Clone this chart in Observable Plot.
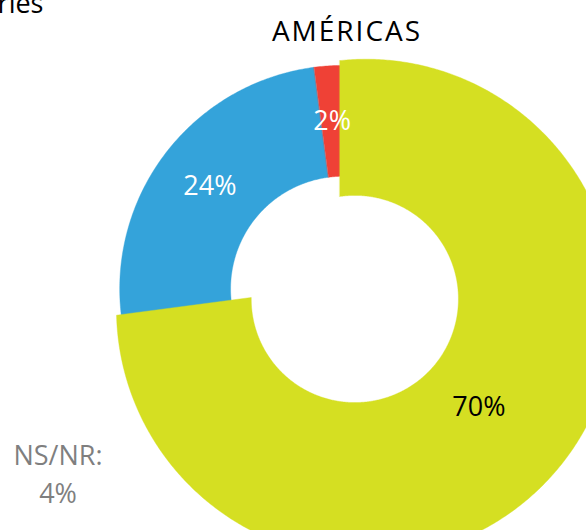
<!DOCTYPE html>
<html><head><meta charset="utf-8">
<script src="https://cdn.jsdelivr.net/npm/d3@7"></script>
<script src="https://cdn.jsdelivr.net/npm/@observablehq/plot@0.6"></script>
<style>body{margin:0;background:#fff;overflow:hidden;}</style>
</head><body><div id="chart"></div>
<script>
// ---- data ----
const categories = ["Opción 1", "Opción 2", "Opción 3"];
const values = [70, 24, 2];
const valueLabels = ["70%", "24%", "2%"];
const colors = ["#d5df22", "#34a3da", "#ef4136"];
const nsnrLabel = "NS/NR:";
const nsnrValue = 4;
const title = "AMÉRICAS";
const clippedText = "ries";

// ---- layout ----
const W = 586, H = 530, CX = 342.7, CY = 288.4;
const FONT = "'Open Sans', sans-serif";
// ox/oy: slice centre offset; sOut/sIn: shift of the arc centres along the bisector (arc bulge)
const ring = [
  {ox: -3.4, oy: -3.1, rIn: 89.3, rOut: 225.2, sIn: 20, sOut: 35, rLabel: 185, ink: "#000000"},
  {ox: 0, oy: 0, rIn: 112.6, rOut: 223.5, sIn: 0, sOut: 0, rLabel: 168, ink: "#ffffff"},
  {ox: 0, oy: 0, rIn: 112.6, rOut: 223.5, sIn: 0, sOut: 0, rLabel: 168, ink: "#ffffff"}
];
const total = d3.sum(values);
let acc = 0;
const slices = values.map((v, i) => {
  const a0 = acc / total * 2 * Math.PI; acc += v;
  const a1 = acc / total * 2 * Math.PI;
  return {cat: categories[i], a0, a1, label: valueLabels[i], ...ring[i]};
});

function arcPoints(s, r, shift, reverse) {
  const m = (s.a0 + s.a1) / 2;
  const qx = s.ox + shift * Math.sin(m), qy = s.oy - shift * Math.cos(m);
  const p0 = [s.ox + r * Math.sin(s.a0), s.oy - r * Math.cos(s.a0)];
  const p1 = [s.ox + r * Math.sin(s.a1), s.oy - r * Math.cos(s.a1)];
  const rr = Math.hypot(p0[0] - qx, p0[1] - qy);
  const f0 = Math.atan2(p0[0] - qx, -(p0[1] - qy));
  let f1 = Math.atan2(p1[0] - qx, -(p1[1] - qy));
  let sweep = f1 - f0;
  while (sweep <= 0) sweep += 2 * Math.PI;
  const n = Math.max(2, Math.ceil(sweep / (Math.PI / 360)));
  const out = [];
  for (let k = 0; k <= n; k++) {
    const f = f0 + sweep * k / n;
    out.push({cat: s.cat, x: qx + rr * Math.sin(f), y: qy - rr * Math.cos(f)});
  }
  return reverse ? out.reverse() : out;
}

const pts = [];
for (const s of [slices[1], slices[2], slices[0]]) {
  pts.push(...arcPoints(s, s.rOut, s.sOut, false));
  pts.push(...arcPoints(s, s.rIn, s.sIn, true));
}
const labels = slices.map(s => {
  const m = (s.a0 + s.a1) / 2;
  return {label: s.label, ink: s.ink, x: s.ox + s.rLabel * Math.sin(m), y: s.oy - s.rLabel * Math.cos(m)};
});

const plot = Plot.plot({
  width: W, height: H, margin: 0,
  x: {domain: [-CX, W - CX], range: [0, W], axis: null},
  y: {domain: [-CY, H - CY], range: [0, H], axis: null},
  color: {domain: categories, range: colors},
  style: {fontFamily: FONT, background: "white", overflow: "hidden"},
  marks: [
    Plot.line(pts, {x: "x", y: "y", z: "cat", fill: "cat", stroke: "cat", strokeWidth: 0.4, curve: "linear-closed"}),
    Plot.text(labels.filter(d => d.ink === "#ffffff"), {x: "x", y: "y", text: "label", fill: "#ffffff", fontSize: 27}),
    Plot.text(labels.filter(d => d.ink !== "#ffffff"), {x: "x", y: "y", text: "label", fill: "#000000", fontSize: 27}),
    Plot.text([title], {frameAnchor: "top-left", dx: 346.5, dy: 20.5, lineAnchor: "top", textAnchor: "middle", fontSize: 28, fill: "#000"}),
    Plot.text([clippedText], {frameAnchor: "top-left", dx: 43, dy: -6.5, lineAnchor: "top", textAnchor: "end", fontSize: 27, fill: "#000"}),
    Plot.text([`${nsnrLabel}\n${nsnrValue}%`], {frameAnchor: "top-left", dx: 57.5, dy: 438, lineAnchor: "top", textAnchor: "middle", fontSize: 27, lineHeight: 1.4, fill: "#7f7f7f"})
  ]
});
plot.querySelectorAll("text").forEach(t => { if (t.textContent === title) t.setAttribute("letter-spacing", "2"); });
document.getElementById("chart").appendChild(plot);
</script></body></html>
